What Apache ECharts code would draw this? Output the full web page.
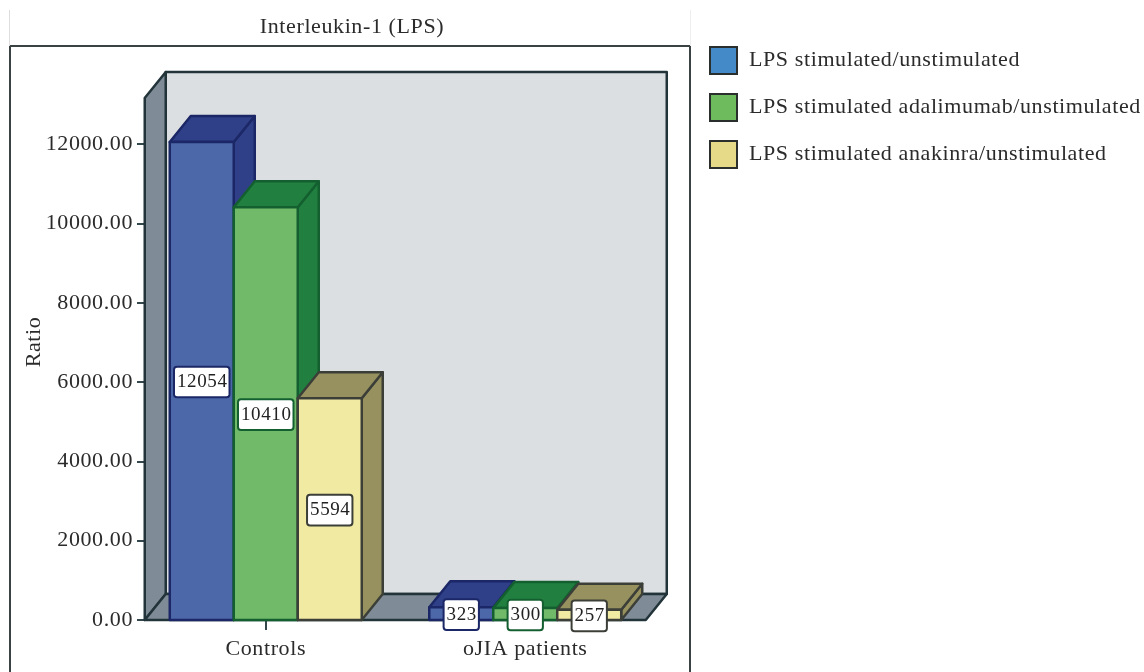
<!DOCTYPE html>
<html><head><meta charset="utf-8">
<style>html,body{margin:0;padding:0;background:#fff}#c{width:1144px;height:672px}</style>
<script src="https://cdn.jsdelivr.net/npm/echarts@6/dist/echarts.min.js"></script>
</head><body><div id="c"></div>
<script>
const categories = ['Controls', 'oJIA patients'];
const seriesNames = ['LPS stimulated/unstimulated', 'LPS stimulated adalimumab/unstimulated', 'LPS stimulated anakinra/unstimulated'];
const stimulated = [12054, 323];
const adalimumab = [10410, 300];
const anakinra = [5594, 257];
const yTicks = [0, 2000, 4000, 6000, 8000, 10000, 12000];
const yTop = 13165;

// The reference typesets its text with wide tracking.
(function () {
  const P = CanvasRenderingContext2D.prototype;
  ['fillText', 'strokeText', 'measureText'].forEach(function (m) {
    const f = P[m];
    P[m] = function () { this.letterSpacing = '0.6px'; return f.apply(this, arguments); };
  });
})();

const FONT = '"Liberation Serif", serif';
const TXT = '#2b2b2b', EDGE = '#22343a';
const DX = 21, DY = 26, BAR = 0.2466, INL = 0.4663, INR = 0.4644;
const styles = [
  {legend:'#4489c8', front:'#4c68a8', dark:'#2f3f88', line:'#1b2766'},
  {legend:'#6dbb5c', front:'#70ba6a', dark:'#21803f', line:'#145f30'},
  {legend:'#e6da88', front:'#f0eaa2', dark:'#96915f', line:'#3c3f38'}
];
const poly = (pts, fill, stroke, lw) => ({type:'polygon', shape:{points:pts},
  style:{fill, stroke, lineWidth:lw, lineJoin:'round'}});

function wallItem(params, api) {
  const band = api.size([1, 0])[0];
  const xL = api.coord([0, 0])[0] - INL * band, xR = api.coord([1, 0])[0] + INR * band;
  const y0 = api.coord([0, 0])[1], yT = api.coord([0, yTop])[1];
  return {type:'group', children:[
    poly([[xL+DX,y0-DY],[xR+DX,y0-DY],[xR+DX,yT-DY],[xL+DX,yT-DY]], '#dcdfe2', EDGE, 2.5),
    poly([[xL,y0],[xL+DX,y0-DY],[xL+DX,yT-DY],[xL,yT]], '#7f8b96', EDGE, 2.5),
    poly([[xL,y0],[xR,y0],[xR+DX,y0-DY],[xL+DX,y0-DY]], '#7f8b96', EDGE, 2.5)
  ]};
}
function barItem(idx) {
  return function (params, api) {
    const s = styles[idx];
    const c = api.coord([api.value(0), api.value(1)]);
    const base = api.coord([api.value(0), 0]);
    const w = api.size([1, 0])[0] * BAR;
    const cx = c[0] + (idx - 1) * w, l = cx - w / 2, r = cx + w / 2, t = c[1], b = base[1];
    return {type:'group', children:[
      poly([[r,b],[r+DX,b-DY],[r+DX,t-DY],[r,t]], s.dark, s.line, 2.5),
      poly([[l,t],[r,t],[r+DX,t-DY],[l+DX,t-DY]], s.dark, s.line, 2.5),
      poly([[l,b],[r,b],[r,t],[l,t]], s.front, s.line, 2.5),
      {type:'text', z2:50, style:{text:String(api.value(1)), x:cx, y:(t+b)/2+1, align:'center', verticalAlign:'middle',
        font:'19px '+FONT, fill:'#222', backgroundColor:'#fff', borderColor:s.line, borderWidth:2, borderRadius:2, padding:[5,1,4,2]}}
    ]};
  };
}
const rows = a => a.map((v, i) => [i, v]);
const chart = echarts.init(document.getElementById('c'), null, {renderer:'canvas'});
chart.setOption({
  animation:false,
  backgroundColor:'#fff',
  title:{text:'Interleukin-1 (LPS)', left:347, top:11, textAlign:'center',
    textStyle:{fontFamily:FONT, fontSize:22, lineHeight:22, fontWeight:'normal', color:TXT}},
  legend:{left:709, top:46, orient:'vertical', padding:0, itemWidth:27, itemHeight:27, itemGap:18,
    selectedMode:false,
    textStyle:{fontFamily:FONT, fontSize:22, lineHeight:22, color:TXT, padding:[0,0,0,7]},
    data:seriesNames.map((n,i)=>({name:n, icon:'rect',
      itemStyle:{color:styles[i].legend, borderColor:'#2a2f2e', borderWidth:2}}))},
  grid:{left:136, width:519, top:98, height:522, outerBoundsMode:'none'},
  xAxis:{type:'category', data:categories,
    axisLine:{show:false}, axisTick:{show:true, alignWithLabel:true, length:10, lineStyle:{color:'#34474c', width:2}},
    axisLabel:{fontFamily:FONT, fontSize:22, lineHeight:22, color:TXT, margin:18}},
  yAxis:{type:'value', min:0, max:yTop, offset:-9, splitLine:{show:false},
    name:'Ratio', nameLocation:'middle', nameGap:100, nameRotate:90, nameMoveOverlap:false,
    nameTextStyle:{fontFamily:FONT, fontSize:22, lineHeight:22, color:TXT, padding:[0,0,0,34]},
    axisLine:{show:false},
    axisTick:{show:true, length:8, customValues:yTicks, lineStyle:{color:'#34474c', width:2}},
    axisLabel:{fontFamily:FONT, fontSize:22, lineHeight:24, color:TXT, margin:12, padding:[5,0,0,0], customValues:yTicks,
      formatter:v=>Number(v).toFixed(2)}},
  graphic:[{type:'rect', z:-1, silent:true, shape:{x:10,y:46,width:680,height:640},
    style:{fill:'none', stroke:'#3a4244', lineWidth:2}},
    {type:'line', silent:true, shape:{x1:9.5,y1:10,x2:9.5,y2:46}, style:{stroke:'#dddddd', lineWidth:1}},
    {type:'line', silent:true, shape:{x1:690.5,y1:10,x2:690.5,y2:46}, style:{stroke:'#eeeeee', lineWidth:1}}],
  series:[
    {type:'custom', name:'walls', z:1, silent:true, renderItem:wallItem, data:[[0,0]], encode:{x:0,y:1}},
    ...[stimulated, adalimumab, anakinra].map((a,i)=>({type:'custom', name:seriesNames[i], z:2+i, silent:true,
      renderItem:barItem(i), data:rows(a), encode:{x:0,y:1}, itemStyle:{color:styles[i].legend}}))
  ]
});
</script></body></html>
